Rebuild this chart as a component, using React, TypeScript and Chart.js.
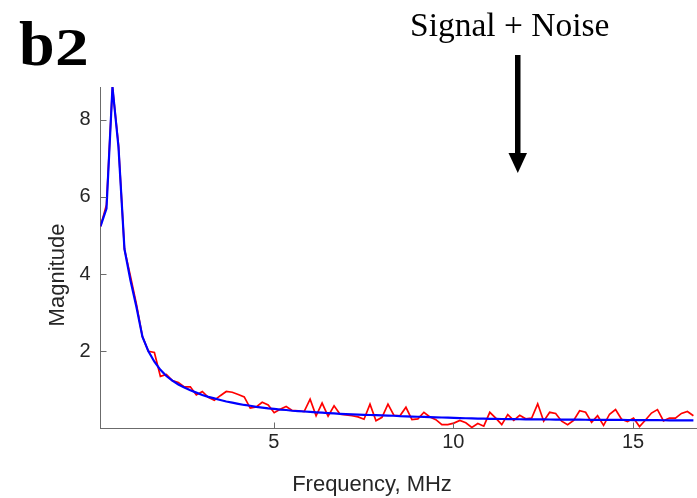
import React, { useEffect, useRef } from "react";
import { Chart, registerables } from "chart.js";

Chart.register(...registerables);

// Frequency grid (MHz): uniform FFT bins
const FREQ_START = 0.18;
const FREQ_STEP = 1 / 6;

const X_MIN = 0.18;
const X_MAX = 16.78;
const Y_MIN = 0;
const Y_MAX = 8.85;

const xTickValues = [5, 10, 15];
const yTickValues = [2, 4, 6, 8];

// Measured magnitude (signal + noise), red
const measuredMagnitude = [
  5.24, 5.8, 8.85, 7.35, 4.65, 3.95, 3.22, 2.38, 2.0, 1.97,
  1.35, 1.4, 1.24, 1.19, 1.08, 1.08, 0.87, 0.96, 0.81, 0.73,
  0.85, 0.96, 0.94, 0.88, 0.82, 0.53, 0.56, 0.68, 0.61, 0.41,
  0.5, 0.57, 0.47, 0.46, 0.44, 0.76, 0.33, 0.66, 0.32, 0.59,
  0.37, 0.35, 0.33, 0.3, 0.24, 0.63, 0.2, 0.29, 0.63, 0.34,
  0.33, 0.55, 0.23, 0.25, 0.42, 0.3, 0.23, 0.1, 0.1, 0.14,
  0.21, 0.15, 0.03, 0.13, 0.06, 0.42, 0.27, 0.1, 0.36, 0.21,
  0.34, 0.25, 0.27, 0.64, 0.19, 0.42, 0.39, 0.19, 0.1, 0.21,
  0.46, 0.42, 0.16, 0.33, 0.08, 0.37, 0.49, 0.24, 0.18, 0.27,
  0.05, 0.22, 0.4, 0.49, 0.2, 0.27, 0.27, 0.39, 0.44, 0.33,
];

// Fitted magnitude, blue
const fittedMagnitude = [
  5.24, 5.7, 8.85, 7.3, 4.65, 3.84, 3.15, 2.38, 2.0, 1.73,
  1.52, 1.36, 1.24, 1.14, 1.06, 0.99, 0.93, 0.87, 0.82, 0.78,
  0.74, 0.7, 0.67, 0.64, 0.61, 0.59, 0.56, 0.54, 0.52, 0.51,
  0.49, 0.48, 0.46, 0.45, 0.44, 0.43, 0.42, 0.41, 0.4, 0.39,
  0.38, 0.373, 0.366, 0.36, 0.355, 0.35, 0.345, 0.34, 0.335, 0.33,
  0.32, 0.315, 0.31, 0.305, 0.3, 0.295, 0.29, 0.285, 0.28, 0.275,
  0.27, 0.266, 0.262, 0.258, 0.254, 0.25, 0.248, 0.246, 0.244, 0.242,
  0.24, 0.238, 0.236, 0.235, 0.234, 0.233, 0.232, 0.231, 0.23, 0.229,
  0.228, 0.227, 0.226, 0.225, 0.224, 0.223, 0.222, 0.221, 0.22, 0.219,
  0.218, 0.217, 0.216, 0.215, 0.214, 0.213, 0.212, 0.211, 0.21, 0.209,
];

const frequency = measuredMagnitude.map((_, i) => FREQ_START + i * FREQ_STEP);

const AXIS_COLOR = "#6b6b6b";
const TEXT_COLOR = "#262626";
const SANS = "'Liberation Sans', Arial, Helvetica, sans-serif";
const SERIF = "'Liberation Serif', 'Times New Roman', serif";

export default function App() {
  const canvasRef = useRef<HTMLCanvasElement | null>(null);

  useEffect(() => {
    const canvas = canvasRef.current;
    if (!canvas) return;

    const inwardTicks = {
      id: "inwardTicks",
      afterDraw(chart: any) {
        const { ctx, chartArea, scales } = chart;
        ctx.save();
        ctx.strokeStyle = AXIS_COLOR;
        ctx.lineWidth = 1;
        ctx.beginPath();
        for (const v of xTickValues) {
          const px = Math.round(scales.x.getPixelForValue(v)) + 0.5;
          ctx.moveTo(px, chartArea.bottom);
          ctx.lineTo(px, chartArea.bottom - 6);
        }
        for (const v of yTickValues) {
          const py = Math.round(scales.y.getPixelForValue(v)) + 0.5;
          ctx.moveTo(chartArea.left, py);
          ctx.lineTo(chartArea.left + 6, py);
        }
        ctx.stroke();
        ctx.restore();
      },
    };

    const chart = new Chart(canvas, {
      type: "line",
      data: {
        datasets: [
          {
            label: "Fit",
            data: frequency.map((f, i) => ({ x: f, y: fittedMagnitude[i] })),
            borderColor: "#0000ff",
            borderWidth: 2.2,
            pointRadius: 0,
            tension: 0,
            fill: false,
          },
          {
            label: "Signal + Noise",
            data: frequency.map((f, i) => ({ x: f, y: measuredMagnitude[i] })),
            borderColor: "#ff0000",
            borderWidth: 1.7,
            pointRadius: 0,
            tension: 0,
            fill: false,
          },
        ],
      },
      options: {
        animation: false,
        responsive: false,
        maintainAspectRatio: false,
        layout: { padding: { top: 87, left: 0, right: 0, bottom: 0 } },
        plugins: {
          legend: { display: false },
          tooltip: { enabled: false },
        },
        scales: {
          x: {
            type: "linear",
            min: X_MIN,
            max: X_MAX,
            afterBuildTicks: (s: any) => {
              s.ticks = xTickValues.map((v) => ({ value: v }));
            },
            afterFit: (s: any) => {
              s.height = 69.5;
            },
            grid: { display: false, drawTicks: false },
            border: { display: true, color: AXIS_COLOR, width: 1 },
            ticks: {
              color: TEXT_COLOR,
              font: { family: SANS, size: 20 },
              padding: 2,
              maxRotation: 0,
              autoSkip: false,
            },
          },
          y: {
            type: "linear",
            min: Y_MIN,
            max: Y_MAX,
            afterBuildTicks: (s: any) => {
              s.ticks = yTickValues.map((v) => ({ value: v }));
            },
            afterFit: (s: any) => {
              s.width = 100.5;
            },
            grid: { display: false, drawTicks: false },
            border: { display: true, color: AXIS_COLOR, width: 1 },
            ticks: {
              color: TEXT_COLOR,
              font: { family: SANS, size: 20 },
              padding: 10,
              autoSkip: false,
            },
          },
        },
      },
      plugins: [inwardTicks],
    } as any);

    return () => chart.destroy();
  }, []);

  return (
    <div
      style={{
        position: "absolute",
        left: 0,
        top: 0,
        width: 697,
        height: 498,
        background: "#ffffff",
        overflow: "hidden",
      }}
    >
      <canvas
        ref={canvasRef}
        width={697}
        height={498}
        style={{ display: "block", position: "absolute", left: 0, top: 0 }}
      />
      <div
        style={{
          position: "absolute",
          left: 19,
          top: 12,
          fontFamily: SERIF,
          fontWeight: "bold",
          lineHeight: 1,
          color: "#000",
          whiteSpace: "nowrap",
        }}
      >
        <span style={{ fontSize: 64 }}>b</span>
        <span
          style={{
            fontSize: 52,
            display: "inline-block",
            transform: "scaleX(1.3)",
            transformOrigin: "left bottom",
          }}
        >
          2
        </span>
      </div>
      <div
        style={{
          position: "absolute",
          left: 410,
          top: 8,
          fontFamily: SERIF,
          fontSize: 33.5,
          lineHeight: 1,
          color: "#000",
          whiteSpace: "nowrap",
        }}
      >
        Signal + Noise
      </div>
      <svg
        width={697}
        height={498}
        style={{ position: "absolute", left: 0, top: 0, pointerEvents: "none" }}
      >
        <rect x={515} y={55} width={5.5} height={100} fill="#000" />
        <polygon points="508.5,153 527,153 517.8,173" fill="#000" />
      </svg>
      <div
        style={{
          position: "absolute",
          left: 372,
          top: 484,
          transform: "translate(-50%, -50%)",
          fontFamily: SANS,
          fontSize: 22,
          lineHeight: 1,
          color: TEXT_COLOR,
          whiteSpace: "nowrap",
        }}
      >
        Frequency, MHz
      </div>
      <div
        style={{
          position: "absolute",
          left: 57,
          top: 275,
          transform: "translate(-50%, -50%) rotate(-90deg)",
          fontFamily: SANS,
          fontSize: 22,
          lineHeight: 1,
          color: TEXT_COLOR,
          whiteSpace: "nowrap",
        }}
      >
        Magnitude
      </div>
    </div>
  );
}
